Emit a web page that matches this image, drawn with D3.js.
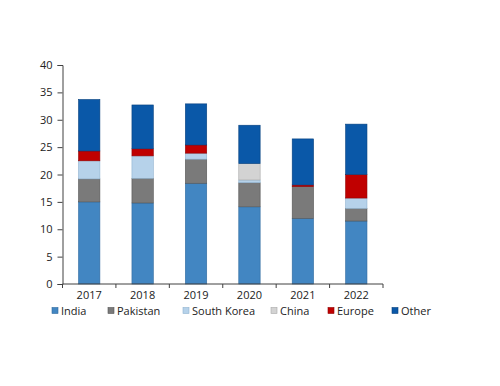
<!DOCTYPE html>
<html>
<head>
<meta charset="utf-8">
<script src="https://cdn.jsdelivr.net/npm/d3@7"></script>
<style>
  body { margin: 0; background: #fff; }
  svg text { font-family: "Open Sans", "Noto Sans", sans-serif; font-size: 11px; fill: #222; }
</style>
</head>
<body>
<svg id="chart" width="500" height="386"></svg>
<script>
var years = ["2017", "2018", "2019", "2020", "2021", "2022"];
var seriesNames = ["India", "Pakistan", "South Korea", "China", "Europe", "Other"];
var india = [15.0, 14.8, 18.4, 14.1, 12.0, 11.5];
var pakistan = [4.2, 4.5, 4.4, 4.4, 5.8, 2.3];
var southKorea = [3.3, 4.1, 1.1, 0.5, 0, 1.9];
var china = [0, 0, 0, 3.0, 0, 0];
var europe = [1.8, 1.3, 1.5, 0, 0.3, 4.3];
var other = [9.4, 8.0, 7.5, 7.0, 8.4, 9.2];
var yTicks = [0, 5, 10, 15, 20, 25, 30, 35, 40];

var colors = ["#4286c2", "#7a7a7a", "#b6d2ea", "#d3d3d3", "#c00000", "#0a58a8"];
var strokes = ["#2f6a9f", "#555555", "#8fb2cf", "#a8a8a8", "#900000", "#06407e"];

var rows = years.map(function (y, i) {
    return { year: y, India: india[i], Pakistan: pakistan[i], "South Korea": southKorea[i],
        China: china[i], Europe: europe[i], Other: other[i] };
});

var svg = d3.select("#chart");
var plotLeft = 62.5, plotRight = 383, plotTop = 65, plotBottom = 284;

var x = d3.scaleBand().domain(years).range([plotLeft, plotRight]).paddingInner(0.6).paddingOuter(0.3);
var y = d3.scaleLinear().domain([0, 40]).range([plotBottom, plotTop]);

var stacked = d3.stack().keys(seriesNames)(rows);

svg.append("g").selectAll("g")
    .data(stacked)
    .enter().append("g")
    .attr("fill", function (d, i) { return colors[i]; })
    .attr("stroke", function (d, i) { return strokes[i]; })
    .attr("stroke-width", 0.6)
    .selectAll("rect")
    .data(function (d) { return d.filter(function (p) { return p[1] - p[0] > 0; }); })
    .enter().append("rect")
    .attr("x", function (d) { return x(d.data.year); })
    .attr("width", x.bandwidth())
    .attr("y", function (d) { return y(d[1]); })
    .attr("height", function (d) { return y(d[0]) - y(d[1]); });

// y axis
var yAxis = svg.append("g")
    .attr("transform", "translate(" + plotLeft + ",0)")
    .call(d3.axisLeft(y).tickValues(yTicks).tickSize(5).tickPadding(5));
yAxis.select(".domain").attr("stroke", "#404040");
yAxis.selectAll(".tick line").attr("stroke", "#404040");
yAxis.selectAll("text").style("font-size", "11px").attr("fill", "#222")
    .style("font-family", "'Open Sans', 'Noto Sans', sans-serif");

// x axis with ticks at category boundaries
var xAxisG = svg.append("g").attr("transform", "translate(0," + plotBottom + ")");
xAxisG.append("line").attr("x1", plotLeft).attr("x2", plotRight).attr("stroke", "#404040");
var step = (plotRight - plotLeft) / years.length;
d3.range(years.length + 1).forEach(function (i) {
    xAxisG.append("line")
        .attr("x1", plotLeft + i * step).attr("x2", plotLeft + i * step)
        .attr("y1", 0).attr("y2", 4)
        .attr("stroke", "#404040");
});
xAxisG.selectAll("text.lbl")
    .data(years)
    .enter().append("text")
    .attr("class", "lbl")
    .attr("x", function (d) { return x(d) + x.bandwidth() / 2; })
    .attr("y", 15)
    .attr("text-anchor", "middle")
    .text(function (d) { return d; });

// legend
var legendX = [52, 108, 183, 271, 328, 392];
var legend = svg.append("g").attr("transform", "translate(0,311)");
seriesNames.forEach(function (name, i) {
    legend.append("rect")
        .attr("x", legendX[i]).attr("y", -3.5)
        .attr("width", 6).attr("height", 6)
        .attr("fill", colors[i])
        .attr("stroke", strokes[i]).attr("stroke-width", 0.6);
    legend.append("text")
        .attr("x", legendX[i] + 9).attr("y", 4)
        .text(name);
});
</script>
</body>
</html>
